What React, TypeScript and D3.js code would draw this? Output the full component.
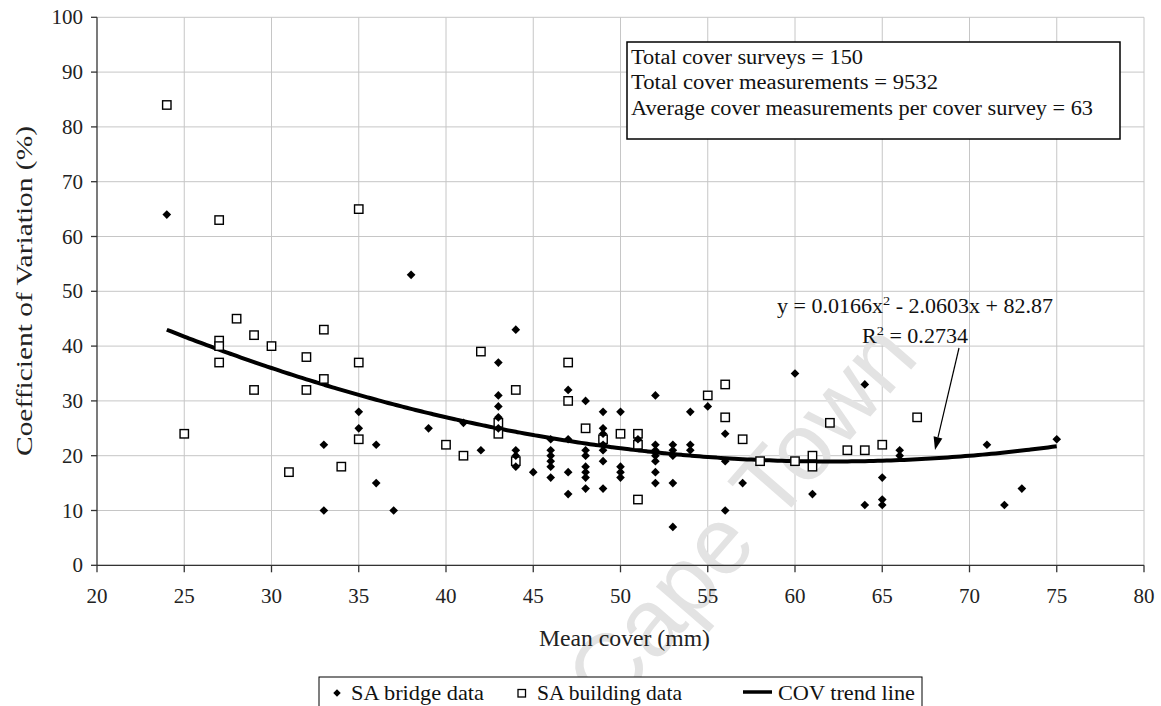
import React from "react";
import * as d3 from "d3";

// ---- data ----
const bridgeX = [24, 33, 33, 35, 35, 36, 36, 37, 38, 39, 41, 42, 43, 43, 43, 43, 43, 44, 44, 44, 44, 45, 46, 46, 46, 46, 46, 46, 47, 47, 47, 47, 48, 48, 48, 48, 48, 48, 48, 49, 49, 49, 49, 49, 49, 49, 50, 50, 50, 50, 51, 52, 52, 52, 52, 52, 52, 52, 53, 53, 53, 53, 53, 54, 54, 54, 55, 56, 56, 56, 57, 60, 61, 64, 64, 65, 65, 65, 66, 66, 71, 72, 73, 75];
const bridgeY = [64, 22, 10, 28, 25, 22, 15, 10, 53, 25, 26, 21, 37, 31, 29, 27, 25, 43, 21, 20, 18, 17, 23, 21, 20, 19, 18, 16, 32, 23, 17, 13, 30, 21, 20, 18, 17, 16, 14, 28, 25, 24, 22, 21, 19, 14, 28, 18, 17, 16, 23, 31, 22, 21, 20, 19, 17, 15, 22, 21, 20, 15, 7, 28, 22, 21, 29, 24, 19, 10, 15, 35, 13, 33, 11, 16, 12, 11, 21, 20, 22, 11, 14, 23];

const buildingX = [24, 25, 27, 27, 27, 27, 28, 29, 29, 30, 31, 32, 32, 33, 33, 34, 35, 35, 35, 40, 41, 42, 43, 43, 44, 44, 47, 47, 48, 49, 50, 51, 51, 51, 55, 56, 56, 57, 58, 60, 61, 61, 62, 63, 64, 65, 67];
const buildingY = [84, 24, 63, 41, 40, 37, 45, 42, 32, 40, 17, 38, 32, 43, 34, 18, 65, 37, 23, 22, 20, 39, 26, 24, 32, 19, 37, 30, 25, 23, 24, 24, 22, 12, 31, 33, 27, 23, 19, 19, 20, 18, 26, 21, 21, 22, 27];

// trend line: y = 0.0166x^2 - 2.0603x + 82.87, drawn over 24..75
const trendCoef = [0.0166, -2.0603, 82.87];
const trendRange = [24, 75];

const xTicks = [20, 25, 30, 35, 40, 45, 50, 55, 60, 65, 70, 75, 80];
const yTicks = [0, 10, 20, 30, 40, 50, 60, 70, 80, 90, 100];

const infoLines = [
  "Total cover surveys = 150",
  "Total cover measurements = 9532",
  "Average cover measurements per cover survey = 63",
];
const infoWidths = [232, 307, 462];

const legendLabels = ["SA bridge data", "SA building data", "COV trend line"];
const legendWidths = [133, 145, 137];

const W = 1161;
const H = 706;
const FONT = "'Liberation Serif', 'Times New Roman', serif";

export default function App() {
  const x = d3.scaleLinear().domain([20, 80]).range([97, 1144]);
  const y = d3.scaleLinear().domain([0, 100]).range([565.3, 17.3]);

  const trendPts: [number, number][] = d3
    .range(trendRange[0], trendRange[1] + 0.001, 0.25)
    .map((v) => [v, trendCoef[0] * v * v + trendCoef[1] * v + trendCoef[2]]);
  const line = d3
    .line<[number, number]>()
    .x((d) => x(d[0]))
    .y((d) => y(d[1]))
    .curve(d3.curveMonotoneX);

  const diamond = d3.symbol().type(d3.symbolDiamond2).size(48)() as string;

  // arrow
  const ax0 = 959, ay0 = 348, ax1 = 935, ay1 = 450;
  const ang = Math.atan2(ay1 - ay0, ax1 - ax0);
  const hl = 13, hw = 4.5;
  const bx = ax1 - hl * Math.cos(ang), by = ay1 - hl * Math.sin(ang);
  const head = [
    [ax1, ay1],
    [bx + hw * Math.sin(ang), by - hw * Math.cos(ang)],
    [bx - hw * Math.sin(ang), by + hw * Math.cos(ang)],
  ]
    .map((p) => p.join(","))
    .join(" ");

  return (
    <svg
      width={W}
      height={H}
      style={{ position: "absolute", left: 0, top: 0, background: "#fff" }}
      fontFamily={FONT}
    >
      <rect x={0} y={0} width={W} height={H} fill="#fff" />
      {/* gridlines */}
      <g stroke="#c6c6c6" strokeWidth={1}>
        {yTicks.map((t) => (
          <line key={"gy" + t} x1={x(20)} x2={x(80)} y1={y(t)} y2={y(t)} />
        ))}
        {xTicks.slice(1).map((t) => (
          <line key={"gx" + t} x1={x(t)} x2={x(t)} y1={y(0)} y2={y(100)} />
        ))}
      </g>

      {/* watermark */}
      <text
        transform="translate(610,716) rotate(-49)"
        fontFamily="'Liberation Sans', Arial, sans-serif"
        fontSize={95}
        fill="#e3e3e3"
      >
        Cape Town
      </text>

      {/* axes */}
      <g stroke="#333" strokeWidth={1.3}>
        <line x1={x(20)} x2={x(20)} y1={y(0)} y2={y(100)} />
        <line x1={x(20)} x2={x(80)} y1={y(0)} y2={y(0)} />
        {yTicks.map((t) => (
          <line key={"ty" + t} x1={x(20) - 6} x2={x(20)} y1={y(t)} y2={y(t)} />
        ))}
        {xTicks.map((t) => (
          <line key={"tx" + t} x1={x(t)} x2={x(t)} y1={y(0)} y2={y(0) + 7} />
        ))}
      </g>
      <g fontSize={21} fill="#222">
        {yTicks.map((t) => (
          <text key={"ly" + t} x={83} y={y(t) + 7} textAnchor="end">
            {t}
          </text>
        ))}
        {xTicks.map((t) => (
          <text key={"lx" + t} x={x(t)} y={603} textAnchor="middle">
            {t}
          </text>
        ))}
      </g>
      <text x={539} y={646} fontSize={23} textLength={171} lengthAdjust="spacingAndGlyphs" fill="#222">
        Mean cover (mm)
      </text>
      <text
        transform="translate(32,291) rotate(-90)"
        fontSize={23}
        textAnchor="middle"
        textLength={330}
        lengthAdjust="spacingAndGlyphs"
        fill="#222"
      >
        Coefficient of Variation (%)
      </text>

      {/* data */}
      <path d={line(trendPts) as string} fill="none" stroke="#000" strokeWidth={4} />
      {buildingX.map((bx2, i) => (
        <rect
          key={"b" + i}
          x={x(bx2) - 4.2}
          y={y(buildingY[i]) - 4.2}
          width={8.4}
          height={8.4}
          fill="#fff"
          stroke="#000"
          strokeWidth={1.4}
        />
      ))}
      {bridgeX.map((bx2, i) => (
        <path
          key={"d" + i}
          d={diamond}
          transform={`translate(${x(bx2)},${y(bridgeY[i])})`}
          fill="#000"
        />
      ))}

      {/* info box */}
      <rect x={627} y={42} width={493} height={97} fill="#fff" stroke="#000" strokeWidth={1.5} />
      <g fontSize={20} fill="#111">
        {infoLines.map((s, i) => (
          <text
            key={"i" + i}
            x={631}
            y={63.5 + i * 25.8}
            textLength={infoWidths[i]}
            lengthAdjust="spacingAndGlyphs"
          >
            {s}
          </text>
        ))}
      </g>

      {/* equation */}
      <text x={777} y={313} fontSize={20} fill="#111" textLength={276} lengthAdjust="spacingAndGlyphs">
        y = 0.0166x<tspan dy={-8} fontSize={13}>2</tspan>
        <tspan dy={8}> - 2.0603x + 82.87</tspan>
      </text>
      <text x={862} y={343} fontSize={20} fill="#111" textLength={106} lengthAdjust="spacingAndGlyphs">
        R<tspan dy={-8} fontSize={13}>2</tspan>
        <tspan dy={8}> = 0.2734</tspan>
      </text>
      <line x1={ax0} y1={ay0} x2={bx} y2={by} stroke="#000" strokeWidth={1.2} />
      <polygon points={head} fill="#000" />

      {/* legend */}
      <rect x={319} y={677} width={603} height={40} fill="#fff" stroke="#000" strokeWidth={1} />
      <path d={d3.symbol().type(d3.symbolDiamond2).size(36)() as string} transform="translate(337,693)" fill="#000" />
      <text x={351} y={700} fontSize={21} fill="#111" textLength={legendWidths[0]} lengthAdjust="spacingAndGlyphs">
        {legendLabels[0]}
      </text>
      <rect x={518} y={689.5} width={7.5} height={7.5} fill="#fff" stroke="#000" strokeWidth={1.3} />
      <text x={537} y={700} fontSize={21} fill="#111" textLength={legendWidths[1]} lengthAdjust="spacingAndGlyphs">
        {legendLabels[1]}
      </text>
      <line x1={743} x2={772} y1={692} y2={692} stroke="#000" strokeWidth={3.5} />
      <text x={778} y={700} fontSize={21} fill="#111" textLength={legendWidths[2]} lengthAdjust="spacingAndGlyphs">
        {legendLabels[2]}
      </text>
    </svg>
  );
}
